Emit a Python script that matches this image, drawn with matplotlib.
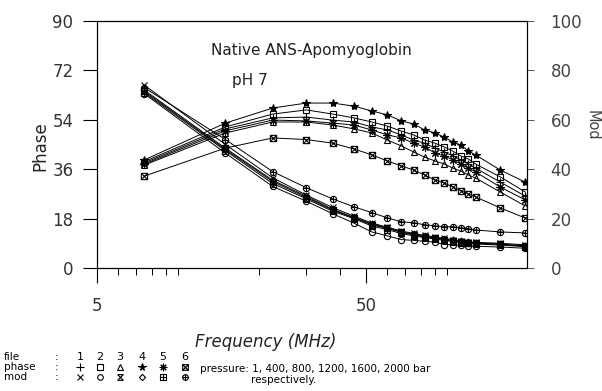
import numpy as np
import matplotlib
matplotlib.use("Agg")
import matplotlib.pyplot as plt
from matplotlib.path import Path
from matplotlib.ticker import FixedLocator, NullFormatter, LogLocator

plt.rcParams['font.family'] = ['DejaVu Sans']

# frequencies (MHz)
freq = [7.5, 15, 22.5, 30, 37.5, 45, 52.5, 60, 67.5, 75, 82.5, 90,
        97.5, 105, 112.5, 120, 127.5, 157.5, 195]

# phase (deg), files 1..6
phase_1 = [38.3, 50.7, 54.7, 55.0, 53.9, 53.2, 51.4, 50.3, 48.5, 46.6, 45.5, 43.7,
           42.3, 40.8, 39.4, 37.9, 36.4, 31.3, 26.2]
phase_2 = [38.8, 51.4, 56.1, 57.6, 56.1, 54.7, 53.2, 51.7, 49.9, 48.5, 46.6, 45.5,
           44.1, 42.6, 40.8, 39.7, 37.9, 33.2, 27.7]
phase_3 = [37.5, 49.2, 53.2, 53.2, 52.1, 50.7, 49.2, 46.6, 44.5, 42.3, 40.4, 39.0,
           37.9, 36.4, 35.3, 33.9, 32.8, 27.7, 22.6]
phase_4 = [39.4, 52.8, 58.3, 60.1, 60.1, 59.0, 57.2, 55.8, 53.6, 52.5, 50.3, 49.2,
           47.7, 45.9, 44.8, 42.6, 41.2, 35.7, 31.3]
phase_5 = [37.9, 50.0, 53.9, 53.6, 52.8, 52.1, 50.3, 48.5, 47.4, 45.5, 44.1, 41.9,
           40.8, 39.4, 37.9, 36.4, 35.0, 29.5, 24.8]
phase_6 = [33.5, 43.7, 47.4, 46.8, 45.5, 43.4, 41.2, 39.0, 37.2, 35.7, 33.9, 32.1,
           31.0, 29.5, 28.2, 27.0, 25.9, 21.9, 18.2]

# modulation (%), files 1..6
mod_1 = [74.0, 50.0, 36.5, 29.5, 24.5, 21.0, 18.2, 16.5, 15.0, 14.0, 13.2, 12.6,
         12.0, 11.5, 11.0, 10.6, 10.4, 10.0, 9.4]
mod_2 = [70.5, 46.5, 33.0, 27.0, 22.0, 18.2, 14.6, 13.0, 11.5, 11.2, 10.8, 10.5,
         9.5, 9.4, 9.2, 9.0, 8.8, 8.5, 8.0]
mod_3 = [71.5, 48.0, 35.0, 28.5, 23.5, 20.3, 17.5, 16.0, 14.5, 13.4, 12.6, 12.2,
         11.5, 11.0, 10.6, 10.2, 10.0, 9.6, 8.9]
mod_4 = [72.0, 48.5, 35.5, 29.0, 23.8, 20.5, 17.8, 16.2, 14.7, 13.6, 12.8, 12.3,
         11.7, 11.2, 10.8, 10.4, 10.1, 9.7, 9.0]
mod_5 = [71.0, 47.5, 34.2, 28.0, 23.0, 20.0, 17.0, 15.5, 14.0, 13.0, 12.3, 11.8,
         11.2, 10.7, 10.3, 10.0, 9.7, 9.3, 8.6]
mod_6 = [73.0, 52.0, 39.0, 32.5, 28.0, 24.8, 22.4, 20.3, 18.7, 18.3, 17.5, 17.1,
         16.7, 16.7, 16.3, 15.9, 15.4, 14.6, 14.2]

file_labels = ['1', '2', '3', '4', '5', '6']
pressure_text = 'pressure: 1, 400, 800, 1200, 1600, 2000 bar'

M, L = Path.MOVETO, Path.LINETO
box_x = Path([(-1, -1), (1, -1), (1, 1), (-1, 1), (-1, -1), (1, 1), (-1, 1), (1, -1)],
             [M, L, L, L, L, L, M, L])
box_plus = Path([(-1, -1), (1, -1), (1, 1), (-1, 1), (-1, -1), (0, -1), (0, 1), (-1, 0), (1, 0)],
                [M, L, L, L, L, M, L, M, L])
circ_plus = Path.make_compound_path(Path.unit_circle(),
                                    Path([(0, -1), (0, 1)], [M, L]),
                                    Path([(-1, 0), (1, 0)], [M, L]))
hourglass = Path([(-1, 1), (1, 1), (-1, -1), (1, -1), (-1, 1)], [M, L, L, L, L])

phase_sets = [phase_1, phase_2, phase_3, phase_4, phase_5, phase_6]
mod_sets = [mod_1, mod_2, mod_3, mod_4, mod_5, mod_6]
phase_mk = [('+', 6, 'none'), ('s', 4.5, 'none'), ('^', 4.5, 'none'),
            ('*', 6, 'black'), ((8, 2, 0), 6, 'none'), (box_x, 4.5, 'none')]
mod_mk = [('x', 4.5, 'none'), ('o', 4.5, 'none'), (hourglass, 4.5, 'none'),
          ('D', 3.5, 'none'), (box_plus, 4.5, 'none'), (circ_plus, 4.5, 'none')]

fig = plt.figure(figsize=(6.02, 3.91), dpi=100)
ax = fig.add_axes([97 / 602, 1 - 268 / 391, 430 / 602, 247 / 391])
ax2 = ax.twinx()

for ys, (mk, ms, fc) in zip(phase_sets, phase_mk):
    ax.plot(freq, ys, color='black', lw=0.7, marker=mk, ms=ms, mfc=fc,
            mec='black', mew=0.8)
for ys, (mk, ms, fc) in zip(mod_sets, mod_mk):
    ax2.plot(freq, ys, color='black', lw=0.7, marker=mk, ms=ms, mfc=fc,
             mec='black', mew=0.8)

ax.set_xscale('log')
ax.set_xlim(5, 198)
ax.set_ylim(0, 90)
ax2.set_ylim(0, 100)
ax.xaxis.set_major_locator(FixedLocator([5, 50]))
ax.set_xticklabels(['5', '50'])
ax.xaxis.set_minor_locator(LogLocator(base=10, subs=np.arange(1, 10)))
ax.xaxis.set_minor_formatter(NullFormatter())
ax.set_yticks([0, 18, 36, 54, 72, 90])
ax2.set_yticks([0, 20, 40, 60, 80, 100])

for a in (ax, ax2):
    for s in a.spines.values():
        s.set_linewidth(0.8)
ax.tick_params(axis='x', which='major', direction='out', length=11, width=0.8,
               pad=10, labelsize=12, labelcolor='#333333')
ax.tick_params(axis='x', which='minor', direction='out', length=5, width=0.7)
ax.tick_params(axis='y', direction='out', length=10, width=0.8, pad=7, labelsize=12,
               labelcolor='#333333')
ax2.tick_params(axis='y', direction='out', length=5, width=0.7, pad=12, labelsize=12,
                colors='#555555', labelcolor='#444444')

fig.text(311 / 602, 1 - 50 / 391, 'Native ANS-Apomyoglobin', ha='center', va='center',
         fontsize=11, color='#222222')
fig.text(250 / 602, 1 - 80 / 391, 'pH 7', ha='center', va='center', fontsize=11,
         color='#222222')
fig.text(40 / 602, 1 - 146 / 391, 'Phase', rotation=90, ha='center', va='center',
         fontsize=12, color='#222222')
fig.text(592 / 602, 1 - 125 / 391, 'Mod', rotation=270, ha='center', va='center',
         fontsize=10.5, color='#444444')
fig.text(266 / 602, 1 - 342 / 391, 'Frequency (MHz)', ha='center', va='center',
         fontsize=12, style='italic', color='#222222')

# legend block
leg = fig.add_axes([0, 0, 1, 1], zorder=-1)
leg.set_xlim(0, 602)
leg.set_ylim(391, 0)
leg.axis('off')
rows = [('file', 357), ('phase', 367), ('mod', 377)]
for name, yy in rows:
    leg.text(4, yy, name, ha='left', va='center', fontsize=7.5)
    leg.text(55, yy, ':', ha='left', va='center', fontsize=7.5)
cols = [80, 100, 120, 142, 163, 185]
for i, xx in enumerate(cols):
    leg.text(xx, 357, file_labels[i], ha='center', va='center', fontsize=8)
    mk, ms, fc = phase_mk[i]
    leg.plot([xx], [367], ls='none', marker=mk, ms=ms * 0.9, mfc=fc, mec='black',
             mew=0.8, color='black')
    mk, ms, fc = mod_mk[i]
    leg.plot([xx], [377], ls='none', marker=mk, ms=ms * 0.9, mfc=fc, mec='black',
             mew=0.8, color='black')
leg.text(200, 369, pressure_text, ha='left', va='center', fontsize=7.5)
leg.text(284, 380, 'respectively.', ha='center', va='center', fontsize=7.5)

fig.savefig('out.png', dpi=100)
